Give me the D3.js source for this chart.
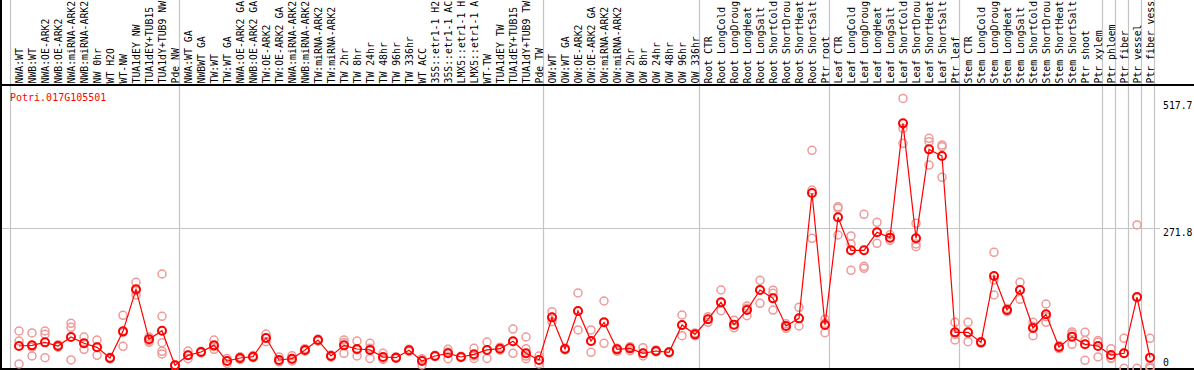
<!DOCTYPE html>
<html>
<head>
<meta charset="utf-8">
<script src="https://cdn.jsdelivr.net/npm/d3@7"></script>
<style>
  html, body { margin: 0; padding: 0; background: #fff; }
  svg { display: block; }
  text { font-family: "DejaVu Sans Mono", monospace; font-size: 10px; }
</style>
</head>
<body>
<svg id="chart" width="1194" height="370"></svg>
<script>
const title = "Potri.017G105501";

const categories = [
  "NWA:WT","NWB:WT","NWA:OE-ARK2","NWB:OE-ARK2","NWA:miRNA-ARK2","NWB:miRNA-ARK2","NW 0hr","WT H2O","WT-NW",
  "TUA1dEY NW","TUA1dEY+TUB15 NW","TUA1dY+TUB9 NW","Pde NW",
  "NWA:WT GA","NWBWT GA","TW:WT","TW:WT GA","NWA:OE-ARK2 GA","NWB:OE-ARK2 GA","TW:OE-ARK2","TW:OE-ARK2 GA",
  "NWA:miRNA-ARK2","NWB:miRNA-ARK2","TW:miRNA-ARK2","TW:miRNA-ARK2","TW 2hr","TW 8hr","TW 24hr","TW 48hr",
  "TW 96hr","TW 336hr","WT ACC","35S::etr1-1 H2O","35S::etr1-1 ACC","LMX5::etr1-1 H2O","LMX5::etr1-1 ACC",
  "WT-TW","TUA1dEY TW","TUA1dEY+TUB15 TW","TUA1dY+TUB9 TW","Pde TW",
  "OW:WT","OW:WT GA","OW:OE-ARK2","OW:OE-ARK2 GA","OW:miRNA-ARK2","OW:miRNA-ARK2","OW 2hr","OW 8hr",
  "OW 24hr","OW 48hr","OW 96hr","OW 336hr",
  "Root CTR","Root LongCold","Root LongDrought","Root LongHeat","Root LongSalt","Root ShortCold",
  "Root ShortDrought","Root ShortHeat","Root ShortSalt","Ptr root",
  "Leaf CTR","Leaf LongCold","Leaf LongDrought","Leaf LongHeat","Leaf LongSalt","Leaf ShortCold",
  "Leaf ShortDrought","Leaf ShortHeat","Leaf ShortSalt","Ptr leaf",
  "Stem CTR","Stem LongCold","Stem LongDrought","Stem LongHeat","Stem LongSalt","Stem ShortCold",
  "Stem ShortDrought","Stem ShortHeat","Stem ShortSalt","Ptr shoot","Ptr xylem",
  "Ptr phloem","Ptr fiber","Ptr vessel","Ptr fiber vessel"
];

// index of the first category of each group (vertical separators)
const groupStarts = [0, 13, 41, 53, 63, 73, 84, 85, 86, 87, 88];

const means = [
  43.6, 44.8, 50.6, 43.6, 61, 48.8, 41, 20.3, 71.9, 153.3, 56.5, 73.2, 6.1,
  25.5, 31.9, 44.8, 14.5, 20.3, 22.9, 59, 16.5, 19, 35.9, 55.2, 24.2, 44.8, 37.7, 35.9, 22.3,
  21, 35.2, 14.5, 24.2, 29.4, 22.3, 27.5, 35.9, 38.3, 52.6, 29.4, 16.5,
  99, 37.7, 111.3, 53.2, 89.4, 37.1, 39, 29.4, 33.9, 31.3, 84.2, 66.1,
  95.2, 128.1, 84.9, 113.2, 152, 135.8, 82.3, 97.1, 339.8, 84.2,
  292.7, 228.8, 228.8, 263.7, 253.4, 474.7, 252.1, 424.3, 411.4, 70,
  70, 50.6, 179.1, 113.2, 152, 78.4, 104.9, 41.6, 61.7, 46.8, 43.6,
  26.1, 29.4, 138.4, 21
];

const replicates = [
  [72.6, 53.2, 8.7], [68.8, 41.5, 24.2], [72.6, 66.1, 21], [41.3, 44.2, 46.2], [87.5, 79.7, 16.5],
  [61, 37.1, 48.2], [55.2, 25.5, 42.3], [21.6, 19.1, 19.1], [103, 42.9, 69.8], [166.8, 142.3, 150.6],
  [61, 53.9, 50.6], [183, 101, 50, 33.2, 28.1], [5.8, 4.8, 6.8],
  [33.9, 19, 25.5], [33.4, 32, 30.4], [55.1, 37.1, 42.3], [19.6, 9.9, 14.5], [22.6, 18.3, 17.6],
  [21, 23, 25], [66.8, 51.9, 59], [22.3, 12.7, 14.7], [24.5, 14.7, 17.6], [38.3, 33.4, 35.9],
  [53, 55, 57], [22, 24, 26], [55.1, 29.4, 50.1], [53.1, 24.2, 35.9], [48.8, 19.6, 39.3],
  [29.4, 19.6, 17.6], [22.6, 19.6, 20.6], [37.3, 32.9, 35.2], [19, 6.8, 17.6], [25.5, 23, 24.2],
  [37.1, 19, 31.9], [21, 22.3, 23.5], [39, 24.2, 19.6], [51.3, 19.6, 36.4], [41.3, 35.4, 38.3],
  [76.4, 29.4, 52.1], [61, 38, 29, 24, 19], [24.2, 8.7, 16.5],
  [110, 90.6, 99], [36, 37.7, 39.5], [146.2, 74.6, 111.3], [74.6, 31.3, 53.2], [130.7, 48.8, 88.6],
  [33.2, 39.3, 37.1], [42.3, 34.4, 39], [40.3, 24.2, 29.4], [32, 34, 36], [32.4, 30.4, 31.3],
  [103.6, 63.5, 84.2], [68.8, 63.5, 66.1],
  [100.4, 89.4, 95.2], [152, 112, 128], [93.5, 78.7, 84.9], [116.5, 102.3, 120.8], [170.7, 126.2, 152],
  [151.6, 145.7, 113.2], [77.7, 86.6, 82.3], [118.4, 82.3, 97.1], [422.5, 345.6, 252.1], [95.2, 69.4, 87.6],
  [313.3, 310.2, 258.5], [256.6, 241.2, 190.1], [298.5, 197.9, 194], [283, 242.3, 263.7], [259, 248.1, 253.4],
  [523, 464.8, 436], [281.1, 241.2, 235.9], [445.6, 439.2, 393.9], [432.8, 429.4, 370.2], [89.4, 65.9, 55.2],
  [89.4, 51.9, 69.8], [52.1, 49.2, 50.6], [224.9, 171.3, 142.3], [116.2, 110.2, 113.2], [166.8, 133.9, 152],
  [89.4, 63.5, 81.7], [124.9, 89.4, 100.4], [44.2, 38.3, 41.6], [66.8, 46.8, 70.8], [70, 54.1, 15.8],
  [54.1, 50.6, 22.3],
  [38.3, 19.7, 20.3], [58.4, 0.3, 29.5], [277.9, 0.3, 137], [58.4, 4, 0.6]
];

const yTicks = [0, 271.8, 517.7];
const yGridValues = [271.8];
const yMax = 547;
const labelMaxChars = 14;

const W = 1194, H = 370;
const svg = d3.select("#chart");

const x = d3.scaleBand().domain(d3.range(categories.length)).range([10.5, 1154.5]).padding(0);
const px = i => x(i) + 8.5;
const y = d3.scaleLinear().domain([0, yMax]).range([368.5, 86]);

// vertical separators
svg.append("g").selectAll("line").data(groupStarts).join("line")
  .attr("x1", d => d < categories.length ? x(d) : x(categories.length - 1) + x.bandwidth())
  .attr("x2", d => d < categories.length ? x(d) : x(categories.length - 1) + x.bandwidth())
  .attr("y1", 0).attr("y2", H)
  .attr("stroke", "#c4c4c4").attr("stroke-width", 1.2);

// horizontal grid
svg.append("g").selectAll("line").data(yGridValues).join("line")
  .attr("x1", 0).attr("x2", 1160)
  .attr("y1", d => Math.round(y(d)) + 0.5).attr("y2", d => Math.round(y(d)) + 0.5)
  .attr("stroke", "#c4c4c4").attr("stroke-width", 1.2);

// frame lines
svg.append("line").attr("x1", 0).attr("x2", W).attr("y1", 85).attr("y2", 85)
  .attr("stroke", "#000").attr("stroke-width", 2);
svg.append("line").attr("x1", 0).attr("x2", W).attr("y1", 369).attr("y2", 369)
  .attr("stroke", "#000").attr("stroke-width", 2);
svg.append("line").attr("x1", 1).attr("x2", 1).attr("y1", 0).attr("y2", H)
  .attr("stroke", "#000").attr("stroke-width", 2);

// column labels (shown truncated to the visible width, as in the reference)
svg.append("g").selectAll("text").data(categories).join("text")
  .attr("transform", (d, i) => `translate(${px(i) + 3.6},83.5) rotate(-90)`)
  .attr("text-anchor", "start")
  .attr("fill", "#000")
  .style("font-size", "9.8px")
  .text(d => d.length > labelMaxChars ? d.slice(0, labelMaxChars).trimEnd() : d);

// title
svg.append("text").attr("x", 10).attr("y", 101).attr("fill", "#ff0000").text(title);

// y labels
svg.append("g").selectAll("text").data(yTicks).join("text")
  .attr("x", 1163)
  .attr("y", d => Math.min(y(d) + 7.5, 366))
  .attr("fill", "#000")
  .style("font-size", "9.8px")
  .text(d => d === 0 ? "0" : d3.format(".1f")(d));

// replicates
const repPts = [];
replicates.forEach((arr, i) => arr.forEach(v => repPts.push({ i, v })));
svg.append("g").selectAll("circle").data(repPts).join("circle")
  .attr("cx", d => px(d.i)).attr("cy", d => y(d.v)).attr("r", 4)
  .attr("fill", "none").attr("stroke", "#ee9a9a").attr("stroke-width", 1.5);

// mean line
const line = d3.line().x((d, i) => px(i)).y(d => y(d));
svg.append("path").datum(means).attr("d", line)
  .attr("fill", "none").attr("stroke", "#ff0000").attr("stroke-width", 1.2);

// mean points
svg.append("g").selectAll("circle").data(means).join("circle")
  .attr("cx", (d, i) => px(i)).attr("cy", d => y(d)).attr("r", 4)
  .attr("fill", "none").attr("stroke", "#ff0000").attr("stroke-width", 2);
</script>
</body>
</html>
